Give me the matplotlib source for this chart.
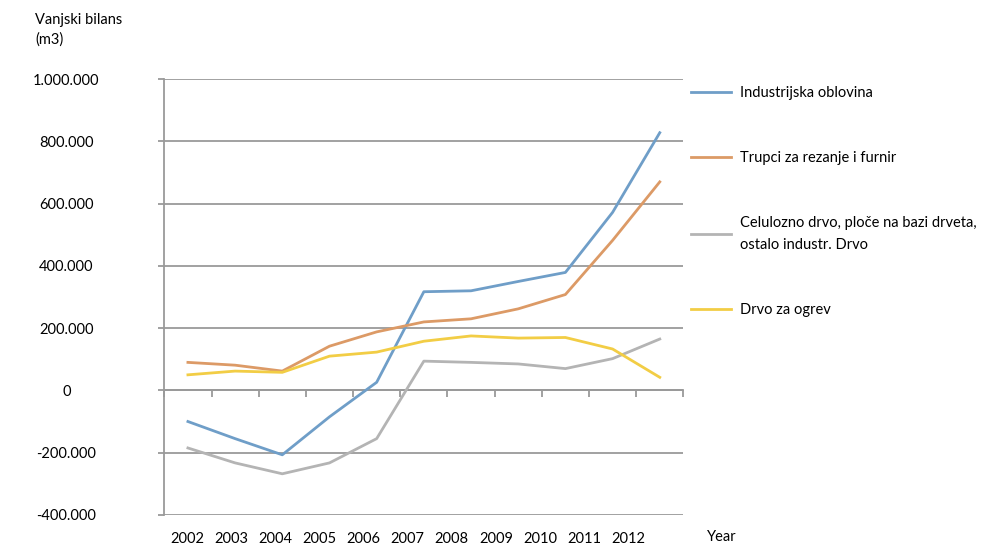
import matplotlib.pyplot as plt
import numpy as np

plt.rcParams['font.family'] = ['Lato', 'DejaVu Sans']

# podaci (vanjski bilans, m3)
years = ['2002', '2003', '2004', '2005', '2006', '2007', '2008', '2009', '2010', '2011', '2012']
industrijska = [-100000, -155000, -207000, -85000, 26000, 317000, 320000, 350000, 379000, 572000, 828000]
trupci = [90000, 81000, 62000, 142000, 188000, 220000, 230000, 262000, 308000, 482000, 670000]
celulozno = [-185000, -233000, -268000, -233000, -155000, 94000, 90000, 85000, 70000, 102000, 165000]
ogrjev = [50000, 62000, 58000, 110000, 123000, 158000, 175000, 168000, 170000, 133000, 42000]

names = ['Industrijska oblovina', 'Trupci za rezanje i furnir',
         'Celulozno drvo, ploče na bazi drveta,\nostalo industr. Drvo', 'Drvo za ogrev']
colors = ['#6f9ec8', '#dc9a66', '#b4b4b4', '#f2cd45']
yticks = [-400000, -200000, 0, 200000, 400000, 600000, 800000, 1000000]

def fmt(v):
    return '{:,}'.format(int(v)).replace(',', '.')

fig = plt.figure(figsize=(10.02, 5.46), dpi=100)
ax = fig.add_axes([0.164, 0.057, 0.518, 0.798])

x = np.arange(len(years))
handles = []
for vals, c, n in zip([industrijska, trupci, celulozno, ogrjev], colors, names):
    h, = ax.plot(x, vals, color=c, lw=2, label=n, solid_joinstyle='round')
    handles.append(h)

grid_c = '#9a9a9a'
ax.set_xlim(-0.5, len(years) - 0.5)
ax.set_ylim(yticks[0], yticks[-1])
ax.set_yticks(yticks)
ax.set_yticklabels([fmt(v) for v in yticks])
ax.yaxis.grid(True, color=grid_c, lw=1.3)
ax.set_axisbelow(True)
for s in ['top', 'right', 'bottom']:
    ax.spines[s].set_visible(False)
ax.spines['left'].set_color(grid_c)
ax.spines['left'].set_linewidth(1.3)
ax.tick_params(axis='y', length=4.5, color=grid_c, width=1.3, labelsize=10.5, pad=66)
for lab in ax.get_yticklabels():
    lab.set_horizontalalignment('center')

# godine ispod grafa (oznake malo zbijene kao u izvorniku)
label_pos = x * 0.935 - 0.02
ax.set_xticks(label_pos)
ax.set_xticklabels(years)
ax.tick_params(axis='x', length=0, labelsize=10.5, pad=12)

# os na nuli s crticama između kategorija
zero_loc = (0 - yticks[0]) / (yticks[-1] - yticks[0])
sec = ax.secondary_xaxis(zero_loc)
sec.set_xticks(np.arange(len(years) + 1) - 0.5)
sec.set_xticklabels([])
sec.spines['bottom'].set_color(grid_c)
sec.spines['bottom'].set_linewidth(1.3)
sec.tick_params(length=5, color=grid_c, width=1.3)

fig.text(0.035, 0.976, 'Vanjski bilans\n(m3)', fontsize=10.5, va='top', ha='left', linespacing=1.45)
fig.text(0.72, 1 - 537 / 546, 'Year', fontsize=10.5, va='center', ha='center')

leg = fig.legend(handles=handles, loc='upper left', bbox_to_anchor=(0.69, 0.843),
                 frameon=False, fontsize=10.5, handlelength=2.75, handletextpad=0.55,
                 labelspacing=3.5, borderpad=0, borderaxespad=0)
for t in leg.get_texts():
    t.set_linespacing(1.75)

fig.savefig('out.png', dpi=100)
